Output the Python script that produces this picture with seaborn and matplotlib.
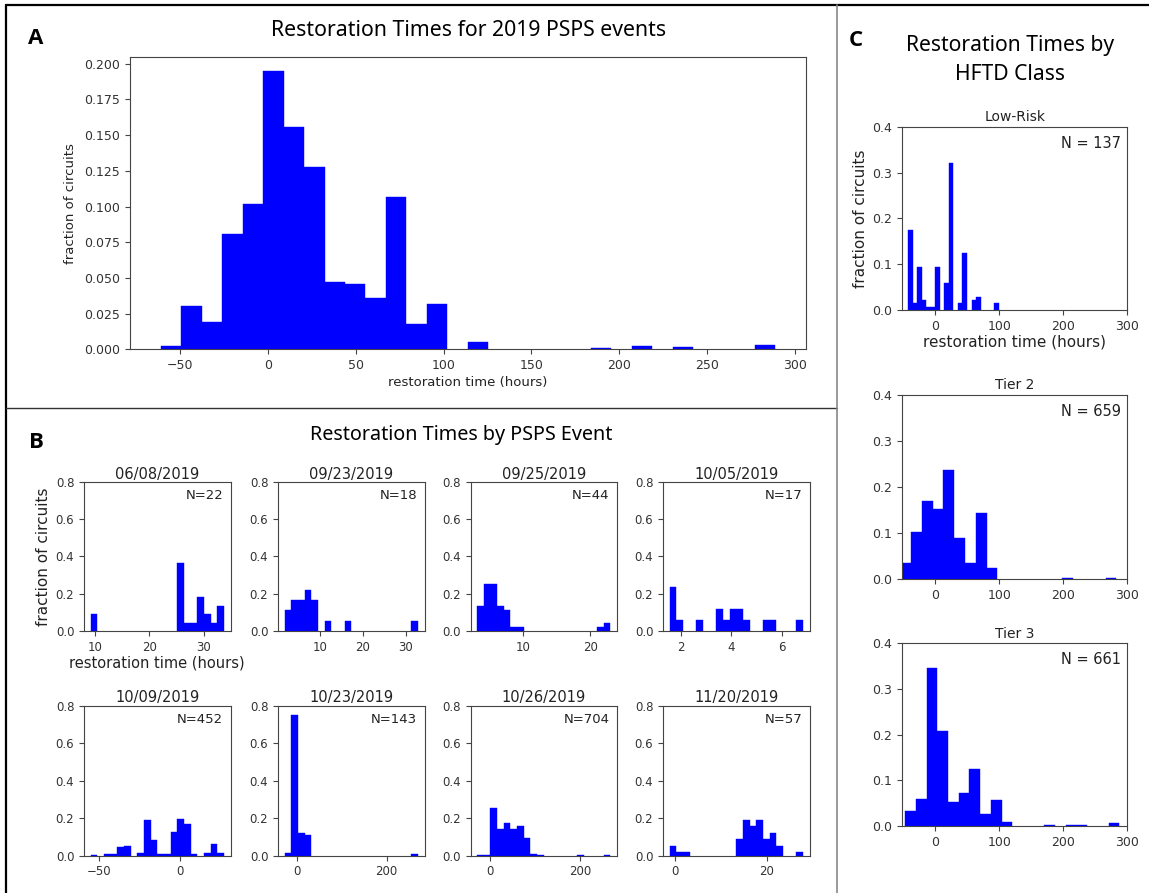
import matplotlib
matplotlib.use("Agg")
import matplotlib.pyplot as plt
from matplotlib.lines import Line2D
import numpy as np
import pandas as pd
import seaborn as sns

sns.set_style("ticks")
plt.rcParams['font.family'] = ['DejaVu Sans']
plt.rcParams['axes.linewidth'] = 0.8
plt.rcParams['axes.edgecolor'] = '#444444'
plt.rcParams['xtick.color'] = '#444444'
plt.rcParams['ytick.color'] = '#444444'
plt.rcParams['xtick.labelcolor'] = '#333333'
plt.rcParams['ytick.labelcolor'] = '#333333'
plt.rcParams['xtick.major.width'] = 0.8
plt.rcParams['ytick.major.width'] = 0.8
plt.rcParams['xtick.major.size'] = 3.5
plt.rcParams['ytick.major.size'] = 3.5
plt.rcParams['text.color'] = '#222222'
plt.rcParams['axes.labelcolor'] = '#222222'

# ---------------- data ----------------
# panel A: all 2019 PSPS events, fraction of circuits per bin (30 bins)
a_range = (-61.0, 288.6)
a_frac = [0.002, 0.030, 0.019, 0.081, 0.102, 0.195, 0.156, 0.128, 0.047, 0.046,
          0.036, 0.107, 0.018, 0.032, 0.0, 0.005, 0.0, 0.0, 0.0, 0.0,
          0.0, 0.0012, 0.0, 0.0023, 0.0, 0.0014, 0.0, 0.0, 0.0, 0.003]
a_xticks = [-50, 0, 50, 100, 150, 200, 250, 300]
a_yticks = [0.0, 0.025, 0.05, 0.075, 0.1, 0.125, 0.15, 0.175, 0.2]

# panel B: one histogram per event (20 bins, circuit counts)
events = ['06/08/2019', '09/23/2019', '09/25/2019', '10/05/2019',
          '10/09/2019', '10/23/2019', '10/26/2019', '11/20/2019']
event_n = [22, 18, 44, 17, 452, 143, 704, 57]
event_range = [(9.2, 33.7), (1.85, 32.85), (3.23, 22.96), (1.56, 6.83),
               (-54.9, 27.0), (-27.8, 269.8), (-27.9, 266.3), (-1.1, 27.85)]
event_counts = [
    [2, 0, 0, 0, 0, 0, 0, 0, 0, 0, 0, 0, 0, 8, 1, 1, 4, 2, 1, 3],
    [2, 3, 3, 4, 3, 0, 1, 0, 0, 1, 0, 0, 0, 0, 0, 0, 0, 0, 0, 1],
    [6, 11, 11, 6, 5, 1, 1, 0, 0, 0, 0, 0, 0, 0, 0, 0, 0, 0, 1, 2],
    [4, 1, 0, 0, 1, 0, 0, 2, 1, 2, 2, 1, 0, 0, 1, 1, 0, 0, 0, 1],
    [2, 0, 3, 3, 20, 24, 0, 6, 86, 38, 3, 3, 56, 89, 77, 3, 0, 6, 27, 6],
    [2, 107, 17, 16, 0, 0, 0, 0, 0, 0, 0, 0, 0, 0, 0, 0, 0, 0, 0, 1],
    [3, 3, 180, 102, 123, 102, 111, 66, 5, 3, 0, 0, 0, 0, 0, 3, 0, 0, 0, 3],
    [3, 1, 1, 0, 0, 0, 0, 0, 0, 0, 5, 11, 9, 11, 5, 7, 3, 0, 0, 1],
]
event_xticks = [[10, 20, 30], [10, 20, 30], [10, 20], [2, 4, 6],
                [-50, 0], [0, 200], [0, 200], [0, 20]]
b_yticks = [0.0, 0.2, 0.4, 0.6, 0.8]

# panel C: by HFTD class (20 bins, circuit counts)
classes = ['Low-Risk', 'Tier 2', 'Tier 3']
class_n = [137, 659, 661]
class_range = [(-42.2, 99.0), (-54.9, 282.9), (-47.2, 287.6)]
class_counts = [
    [24, 2, 13, 3, 1, 1, 13, 0, 8, 44, 0, 2, 17, 0, 3, 4, 0, 0, 0, 2],
    [23, 68, 112, 101, 157, 59, 24, 95, 16, 0, 0, 0, 0, 0, 0, 2, 0, 0, 0, 2],
    [21, 39, 228, 137, 35, 48, 82, 18, 38, 6, 0, 0, 0, 2, 0, 2, 2, 0, 0, 4],
]
c_xticks = [0, 100, 200, 300]
c_yticks = [0.0, 0.1, 0.2, 0.3, 0.4]
c_xlim = (-52, 300)

# ---------------- layout helpers (pixels) ----------------
W, H = 1149, 893
fig = plt.figure(figsize=(W / 100, H / 100), dpi=100)


def px_axes(left, top, right, bottom):
    return fig.add_axes([left / W, 1 - bottom / H, (right - left) / W, (bottom - top) / H])


def ftext(x, y, s, **kw):
    fig.text(x / W, 1 - y / H, s, ha='center', va='center', **kw)


def hist(ax, lo, hi, heights):
    edges = [float(e) for e in np.linspace(lo, hi, len(heights) + 1)]
    mids = [(edges[k] + edges[k + 1]) / 2 for k in range(len(heights))]
    df = pd.DataFrame({'t': mids, 'w': [float(h) for h in heights]})
    sns.histplot(data=df, x='t', weights='w', bins=edges, ax=ax, color='#0000ff',
                 alpha=1, edgecolor='#0000ff', linewidth=0.3)
    # empty bins should not leave a blue line on the baseline
    for p in ax.patches:
        if p.get_height() == 0:
            p.set_linewidth(0)
    ax.set_xlabel('')
    ax.set_ylabel('')


tkw = dict(family='Noto Sans', color='black')
lkw = dict(family='Open Sans', fontweight='bold', color='black', fontsize=16)

# ---------------- panel A ----------------
ax = px_axes(130, 57, 805.7, 349.3)
hist(ax, a_range[0], a_range[1], a_frac)
ax.set_xticks(a_xticks)
ax.set_yticks(a_yticks)
ax.tick_params(labelsize=9)
ax.set_xlabel('restoration time (hours)', fontsize=9.5, labelpad=3)
ax.set_ylabel('fraction of circuits', fontsize=9.5, labelpad=5)
ftext(36, 38, 'A', **lkw)
ftext(469, 31, 'Restoration Times for 2019 PSPS events', fontsize=15.3, **tkw)

# ---------------- panel B ----------------
ftext(36, 443, 'B', **lkw)
ftext(461, 435, 'Restoration Times by PSPS Event', fontsize=14.25, **tkw)
lefts = [84, 278, 470.5, 663]
rows = [(481.7, 631), (705.7, 855.7)]
for i, name in enumerate(events):
    top, bottom = rows[i // 4]
    left = lefts[i % 4]
    ax = px_axes(left, top, left + 146.5, bottom)
    frac = np.array(event_counts[i]) / event_n[i]
    hist(ax, event_range[i][0], event_range[i][1], frac)
    ax.set_ylim(0, 0.8)
    ax.set_yticks(b_yticks)
    ax.set_xticks(event_xticks[i])
    ax.tick_params(labelsize=8.5)
    ax.set_title(name, fontsize=10.5, pad=2 if i < 4 else 3)
    ax.text(0.95, 0.95, 'N=%d' % event_n[i], transform=ax.transAxes,
            ha='right', va='top', fontsize=9.5)
    if i == 0:
        ax.set_xlabel('restoration time (hours)', fontsize=10.5, labelpad=1)
        ax.set_ylabel('fraction of circuits', fontsize=11, labelpad=3)

# ---------------- panel C ----------------
ftext(856, 40, 'C', **lkw)
ftext(1010, 46, 'Restoration Times by', fontsize=15.2, **tkw)
ftext(1010, 75, 'HFTD Class', fontsize=15.2, **tkw)
c_rows = [(126.7, 310), (395, 579.3), (643.3, 826)]
for i, name in enumerate(classes):
    top, bottom = c_rows[i]
    ax = px_axes(902, top, 1127.3, bottom)
    frac = np.array(class_counts[i]) / class_n[i]
    hist(ax, class_range[i][0], class_range[i][1], frac)
    ax.set_xlim(*c_xlim)
    ax.set_ylim(0, 0.4)
    ax.set_xticks(c_xticks)
    ax.set_yticks(c_yticks)
    ax.tick_params(labelsize=9)
    ax.set_title(name, fontsize=10, pad=4)
    ax.text(0.97, 0.95, 'N = %d' % class_n[i], transform=ax.transAxes,
            ha='right', va='top', fontsize=10.5)
    if i == 0:
        ax.set_xlabel('restoration time (hours)', fontsize=11, labelpad=1)
        ax.set_ylabel('fraction of circuits', fontsize=11, labelpad=3)


# ---------------- panel frames ----------------
def fline(x0, y0, x1, y1, **kw):
    fig.add_artist(Line2D([x0 / W, x1 / W], [1 - y0 / H, 1 - y1 / H],
                          transform=fig.transFigure, **kw))


fline(6, 5, W, 5, color='black', lw=1.6)
fline(6, 5, 6, H, color='black', lw=1.6)
fline(6, 408, 837, 408, color='#333333', lw=1.0)
fline(837, 5, 837, H, color='#888888', lw=1.2)

fig.savefig('out.png', dpi=100)
